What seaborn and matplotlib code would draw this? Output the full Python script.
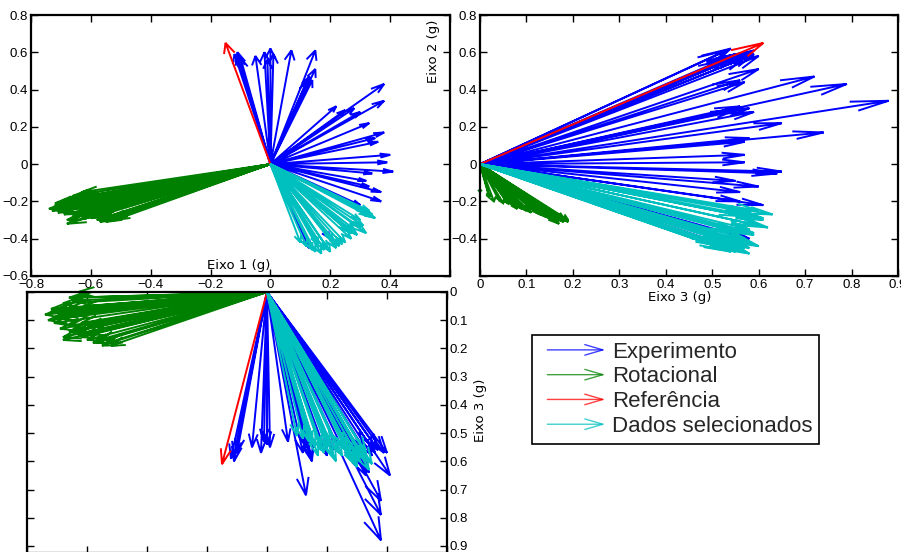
import numpy as np
import pandas as pd
import matplotlib
matplotlib.use("Agg")
import matplotlib.pyplot as plt
import seaborn as sns
from matplotlib.patches import FancyArrowPatch
from matplotlib.lines import Line2D
from matplotlib.legend_handler import HandlerBase

# ---------------- data (components in g) ----------------
# Experimento (blue)
exp_e1 = [-0.11, -0.12, -0.11, -0.10, -0.05, -0.02, 0.00, 0.01, -0.01, 0.07, 0.15, 0.15, 0.13, 0.14,
          0.38, 0.38, 0.22, 0.30, 0.33, 0.38, 0.35, 0.36, 0.40, 0.41, 0.34, 0.37, 0.37, 0.32, 0.30,
          0.20, 0.13, 0.39, 0.33, 0.12, 0.25, 0.28]
exp_e2 = [0.60, 0.59, 0.58, 0.57, 0.58, 0.60, 0.62, 0.59, 0.56, 0.61, 0.61, 0.51, 0.47, 0.45,
          0.43, 0.34, 0.31, 0.28, 0.22, 0.17, 0.14, 0.12, 0.05, -0.04, -0.05, -0.15, -0.20, -0.09, -0.22,
          -0.40, -0.45, 0.01, -0.12, 0.44, 0.29, 0.30]
exp_e3 = [0.58, 0.59, 0.60, 0.57, 0.55, 0.57, 0.54, 0.55, 0.53, 0.53, 0.59, 0.60, 0.72, 0.56,
          0.79, 0.88, 0.56, 0.59, 0.65, 0.74, 0.58, 0.57, 0.57, 0.65, 0.64, 0.56, 0.56, 0.55, 0.61,
          0.58, 0.55, 0.57, 0.60, 0.57, 0.55, 0.58]

# Rotacional (green)
rot_e1 = [-0.63, -0.66, -0.68, -0.70, -0.72, -0.74, -0.73, -0.70, -0.71, -0.69, -0.66, -0.64,
          -0.68, -0.68, -0.62, -0.60, -0.58, -0.55, -0.52, -0.56, -0.61, -0.65, -0.60,
          -0.67, -0.69, -0.71, -0.65, -0.62, -0.66, -0.63, -0.59, -0.57, -0.53, -0.64, -0.72]
rot_e2 = [-0.15, -0.17, -0.19, -0.20, -0.22, -0.24, -0.25, -0.23, -0.26, -0.27, -0.24, -0.26,
          -0.30, -0.32, -0.28, -0.29, -0.30, -0.31, -0.30, -0.29, -0.21, -0.20, -0.25,
          -0.21, -0.23, -0.24, -0.22, -0.24, -0.28, -0.29, -0.27, -0.31, -0.29, -0.18, -0.21]
rot_e3 = [0.00, 0.02, 0.04, 0.06, 0.07, 0.08, 0.10, 0.09, 0.11, 0.13, 0.12, 0.14,
          0.16, 0.17, 0.16, 0.17, 0.18, 0.19, 0.19, 0.17, 0.05, 0.03, 0.12,
          0.06, 0.08, 0.09, 0.08, 0.11, 0.14, 0.15, 0.15, 0.18, 0.18, 0.02, 0.06]

# Referencia (red)
ref_e1 = [-0.15]
ref_e2 = [0.65]
ref_e3 = [0.61]

# Dados selecionados (cyan)
sel_e1 = [0.33, 0.34, 0.32, 0.28, 0.30, 0.27, 0.25, 0.22, 0.20, 0.18, 0.15, 0.12, 0.10,
          0.31, 0.29, 0.24, 0.17, 0.26, 0.21, 0.33,
          0.32, 0.30, 0.23, 0.19, 0.14, 0.27, 0.35, 0.16]
sel_e2 = [-0.25, -0.27, -0.37, -0.35, -0.30, -0.40, -0.42, -0.45, -0.47, -0.46, -0.47, -0.44, -0.42,
          -0.33, -0.38, -0.43, -0.48, -0.36, -0.41, -0.28,
          -0.26, -0.34, -0.44, -0.45, -0.46, -0.37, -0.29, -0.43]
sel_e3 = [0.60, 0.63, 0.59, 0.58, 0.61, 0.57, 0.58, 0.58, 0.55, 0.56, 0.54, 0.52, 0.51,
          0.60, 0.59, 0.57, 0.58, 0.55, 0.53, 0.57,
          0.58, 0.62, 0.60, 0.57, 0.53, 0.56, 0.61, 0.55]

legend_labels = ["Experimento", "Rotacional", "Referência", "Dados selecionados"]
colors = ["#0000ff", "#008000", "#ff0000", "#00bfbf"]

# ---------------- style ----------------
sns.set_theme(style="ticks")
plt.rcParams["font.family"] = ["Liberation Sans", "DejaVu Sans"]

fig = plt.figure(figsize=(9.01, 5.52), dpi=100)
W, H = 901.0, 552.0


def add_ax(l, t, r, b):
    return fig.add_axes([l / W, 1 - b / H, (r - l) / W, (b - t) / H])


ax1 = add_ax(31, 15, 450, 276)
ax2 = add_ax(480, 15, 898, 276)
ax3 = add_ax(27, 292, 447, 553)


def fmt(v):
    s = f"{v:.1f}"
    if s in ("0.0", "-0.0"):
        return "0"
    return s.replace("-", "\u2212")


def style(ax):
    for sp in ax.spines.values():
        sp.set_linewidth(1.6)
        sp.set_color("black")
        sp.set_visible(True)
    ax.tick_params(axis="both", which="both", direction="in", length=5, width=1,
                   top=True, right=True, labelsize=9.5, pad=2, colors="black")
    ax.set_facecolor("white")


for ax in (ax1, ax2, ax3):
    style(ax)

# ax1 : Eixo1 vs Eixo2
ax1.set_xlim(-0.8, 0.6)
ax1.set_ylim(-0.6, 0.8)
xt = np.round(np.arange(-0.8, 0.61, 0.2), 1)
ax1.set_xticks(xt)
ax1.set_xticklabels([fmt(v) if v < 0.55 else "" for v in xt])
yt = np.round(np.arange(-0.6, 0.81, 0.2), 1)
ax1.set_yticks(yt)
ax1.set_yticklabels([fmt(v) for v in yt])

# ax2 : Eixo3 vs Eixo2
ax2.set_xlim(0, 0.9)
ax2.set_ylim(-0.6, 0.8)
xt2 = np.round(np.arange(0, 0.91, 0.1), 1)
ax2.set_xticks(xt2)
ax2.set_xticklabels([fmt(v) for v in xt2])
ax2.set_yticks(yt)
ax2.set_yticklabels([fmt(v) if v > -0.55 else "" for v in yt])

# ax3 : Eixo1 vs Eixo3 (inverted)
ax3.set_xlim(-0.8, 0.6)
ax3.set_ylim(0.925, 0)
ax3.set_xticks(xt)
ax3.tick_params(axis="x", labeltop=False, labelbottom=False)
yt3 = np.round(np.arange(0, 0.91, 0.1), 1)
ax3.set_yticks(yt3)
ax3.set_yticklabels([fmt(v) for v in yt3])
ax3.tick_params(axis="y", labelleft=False, labelright=True)


def draw_quiver(ax, us, vs, color, lw=1.4, alpha_h=0.085, beta_h=0.32):
    """MATLAB-like quiver: shaft from origin plus open V head, in data units."""
    xs, ys = [], []
    for u, v in zip(us, vs):
        xs += [0, u, np.nan]
        ys += [0, v, np.nan]
        x1 = u - alpha_h * (u + beta_h * v)
        y1 = v - alpha_h * (v - beta_h * u)
        x2 = u - alpha_h * (u - beta_h * v)
        y2 = v - alpha_h * (v + beta_h * u)
        xs += [x1, u, x2, np.nan]
        ys += [y1, v, y2, np.nan]
    ax.plot(xs, ys, color=color, lw=lw, solid_joinstyle="miter",
            solid_capstyle="butt", clip_on=False)


sets = [(exp_e1, exp_e2, exp_e3), (rot_e1, rot_e2, rot_e3),
        (ref_e1, ref_e2, ref_e3), (sel_e1, sel_e2, sel_e3)]
for (e1, e2, e3), c in zip(sets, colors):
    draw_quiver(ax1, e1, e2, c)
    draw_quiver(ax2, e3, e2, c)
    draw_quiver(ax3, e1, e3, c)

# axis labels (placed as in the reference)
lab_kw = dict(fontsize=9.5, family=["DejaVu Sans"], color="black")
fig.text(239 / W, 1 - 265 / H, "Eixo 1 (g)", ha="center", va="center", **lab_kw)
fig.text(433 / W, 1 - 51 / H, "Eixo 2 (g)", ha="center", va="center", rotation=90, **lab_kw)
fig.text(680 / W, 1 - 298 / H, "Eixo 3 (g)", ha="center", va="center", **lab_kw)
fig.text(480 / W, 1 - 410 / H, "Eixo 3 (g)", ha="center", va="center", rotation=90, **lab_kw)


# legend with arrow handles
class ArrowHandler(HandlerBase):
    def create_artists(self, legend, orig_handle, xdescent, ydescent, width, height,
                       fontsize, trans):
        y = height / 2 - ydescent
        x0 = -xdescent + 0.13 * width
        a = FancyArrowPatch((x0, y), (width - xdescent, y),
                            arrowstyle="->,head_length=13,head_width=3.8", mutation_scale=1,
                            color=orig_handle.get_color(), lw=1.0, alpha=0.75,
                            shrinkA=0, shrinkB=0, transform=trans)
        return [a]


handles = [Line2D([], [], color=c) for c in colors]
leg = fig.legend(handles, legend_labels, handler_map={Line2D: ArrowHandler()},
                 loc="upper left", bbox_to_anchor=(532 / W, 1 - 335 / H),
                 bbox_transform=fig.transFigure, frameon=True, fancybox=False,
                 prop={"family": ["Liberation Sans"], "size": 16},
                 handlelength=3.0, handletextpad=0.3, labelspacing=0.17,
                 borderpad=0.3, borderaxespad=0)
leg.get_frame().set_edgecolor("black")
leg.get_frame().set_linewidth(1.2)
leg.get_frame().set_alpha(1)

fig.savefig("out.png", dpi=100, facecolor="white")
